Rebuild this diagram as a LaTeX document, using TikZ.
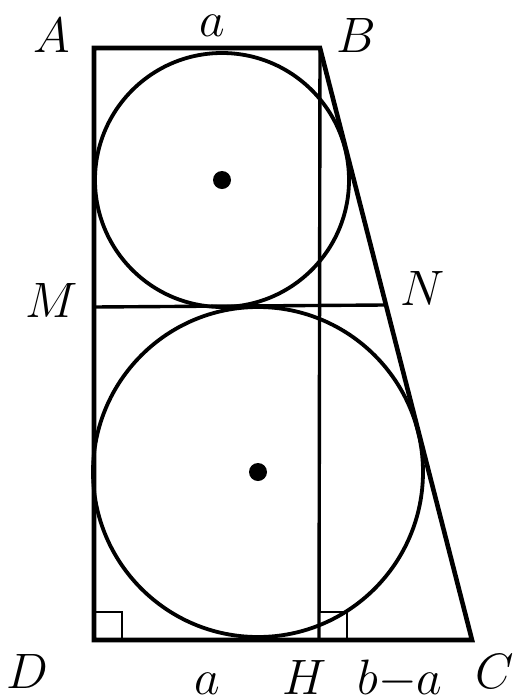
\documentclass[tikz,border=0pt]{standalone}
\usepackage{amsmath}
\usepackage{tikz}
\usetikzlibrary{calc}

\begin{document}
\begin{tikzpicture}[
    x=0.5pt, y=-0.5pt,
    edge/.style={line width=2.3pt, line join=miter},
    thin edge/.style={line width=1.7pt},
    ring/.style={line width=1.9pt},
    rmark/.style={line width=1.2pt},
    lbl/.style={inner sep=0pt, anchor=base, font=\fontsize{24}{28}\selectfont}
]
    \useasboundingbox (0,0) rectangle (513,697);

    % Points of the trapezoid
    \coordinate (A) at (94,48);
    \coordinate (B) at (320,48);
    \coordinate (C) at (472,640);
    \coordinate (D) at (94,640);
    \coordinate (H) at (319,640);
    \coordinate (M) at (94,307);
    \coordinate (N) at ($(B)!0.4341!(C)$);

    % Centres of the two circles
    \coordinate (O1) at (222,180);
    \coordinate (O2) at (258,472);

    % Outline
    \draw[edge] (A) -- (B) -- (C) -- (D) -- cycle;
    \draw[thin edge] (B) -- (H);
    \draw[thin edge] (M) -- (N);

    % Circles
    \draw[ring] (O1) circle[radius=127];
    \draw[ring] (O2) circle[radius=165];
    \fill (O1) circle[radius=9];
    \fill (O2) circle[radius=9];

    % Right angles
    \draw[rmark] ([shift={(28,0)}]D) |- ([shift={(0,-28)}]D);
    \draw[rmark] ([shift={(28,0)}]H) |- ([shift={(0,-28)}]H);

    % Labels
    \node[lbl] (lA) at (52,52) {$A$};
    \node[lbl] (la1) at (212,36) {$a$};
    \node[lbl] (lB) at (356,52) {$B$};
    \node[lbl] (lM) at (52,317) {$M$};
    \node[lbl] (lN) at (423,305) {$N$};
    \node[lbl] (lD) at (27,688) {$D$};
    \node[lbl] (la2) at (207,694) {$a$};
    \node[lbl] (lH) at (305,694) {$H$};
    \node[lbl] (lba) at (400,694) {$b{-}a$};
    \node[lbl] (lC) at (495,688) {$C$};
\end{tikzpicture}
\end{document}
